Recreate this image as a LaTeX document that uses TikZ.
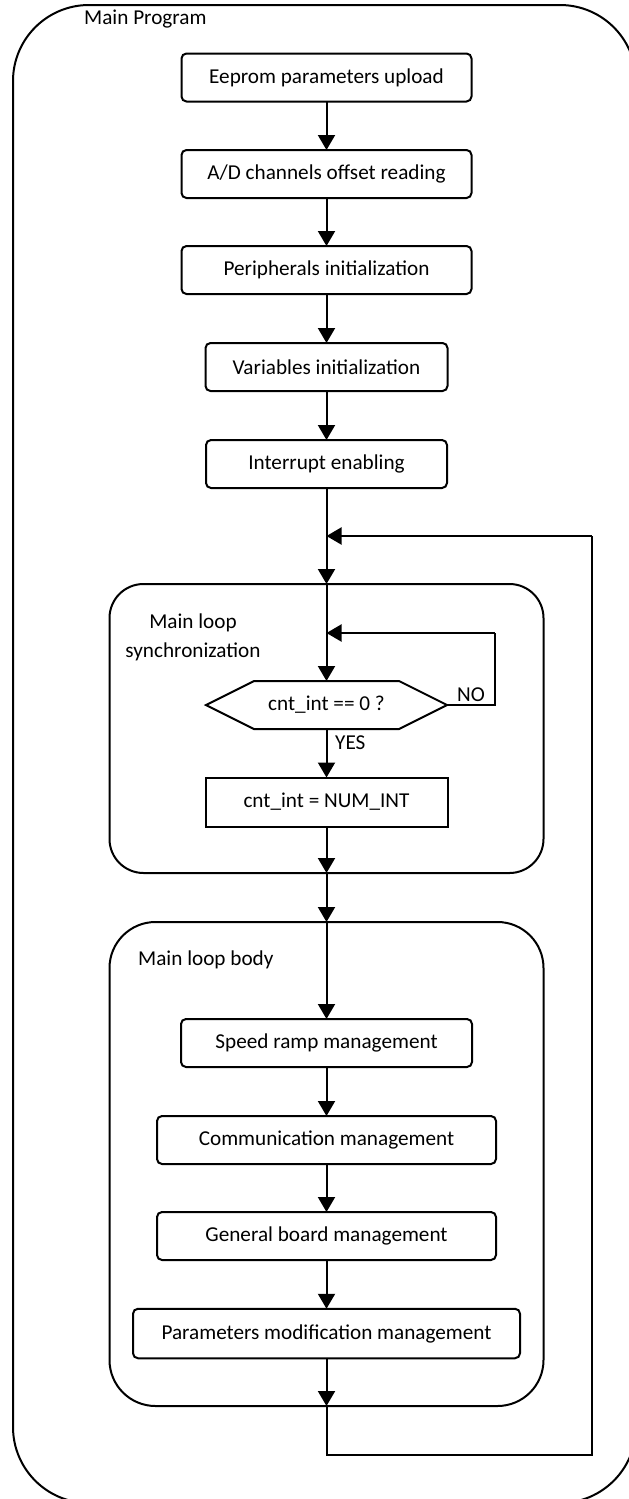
\documentclass[tikz,border=0pt]{standalone}
\usepackage{fontspec}
\setmainfont{Carlito}
\usetikzlibrary{arrows.meta}
\tikzset{
  lw/.style={line width=2pt},
  proc/.style={draw, lw, rounded corners=5pt, minimum height=48pt, inner sep=0pt, outer sep=0pt, align=center},
  sqproc/.style={draw, lw, minimum height=49pt, inner sep=0pt, outer sep=0pt},
  container/.style={draw, lw, inner sep=0pt, outer sep=0pt},
  conn/.style={lw, -{Triangle[length=15pt,width=17pt]}},
  plain/.style={lw},
  lbl/.style={inner sep=0pt, anchor=west}
}
\begin{document}
\begin{tikzpicture}[x=1pt, y=-1pt, font=\fontsize{21.2}{29.5}\selectfont]
\useasboundingbox (0,0) rectangle (629,1499);
\clip (0,0) rectangle (629,1499);
% outer container
\node[container, rounded corners=76pt, minimum width=623pt, minimum height=1498pt] (outer) at (324.5,754) {};
\node[lbl] (title) at (84,19) {Main Program};
% inner containers
\node[container, rounded corners=34pt, minimum width=434pt, minimum height=289pt] (sync) at (326.5,728.5) {};
\node[container, rounded corners=46pt, minimum width=434pt, minimum height=484pt] (body) at (326.5,1164) {};
\node[inner sep=0pt, align=center] (synclbl) at (193,637.5) {Main loop\\synchronization};
\node[lbl] (bodylbl) at (138,960) {Main loop body};
% process boxes
\node[proc, minimum width=290pt] (n1) at (326.5,77.5) {Eeprom parameters upload};
\node[proc, minimum width=290pt] (n2) at (326.5,174) {A/D channels offset reading};
\node[proc, minimum width=290pt] (n3) at (326.5,270) {Peripherals initialization};
\node[proc, minimum width=242pt] (n4) at (326.5,367) {Variables initialization};
\node[proc, minimum width=241pt] (n5) at (326.5,464) {Interrupt enabling};
\coordinate (j1) at (326.5,536);
\coordinate (c2) at (326.5,633);
\node[inner sep=0pt, outer sep=0pt, minimum width=241pt, minimum height=48pt] (dec) at (326.5,705) {cnt\_int == 0 ?};
\draw[plain] (dec.west) -- ([xshift=48pt]dec.north west) -- ([xshift=-48pt]dec.north east) -- (dec.east) -- ([xshift=-48pt]dec.south east) -- ([xshift=48pt]dec.south west) -- cycle;
\node[sqproc, minimum width=242pt] (n6) at (326.5,802) {cnt\_int = NUM\_INT};
\node[proc, minimum width=291pt] (n7) at (326.5,1043) {Speed ramp management};
\node[proc, minimum width=339pt] (n8) at (326.5,1140) {Communication management};
\node[proc, minimum width=339pt] (n9) at (326.5,1236) {General board management};
\node[proc, minimum width=387pt, minimum height=49.5pt] (n10) at (326.5,1333.5) {Parameters modification management};
\coordinate (r1) at (495,705);
\coordinate (r2) at (495,633);
\coordinate (b1) at (326.5,1455);
\coordinate (b2) at (592,1455);
\coordinate (b3) at (592,536);
% connectors
\draw[conn] (n1.south) -- (n2.north);
\draw[conn] (n2.south) -- (n3.north);
\draw[conn] (n3.south) -- (n4.north);
\draw[conn] (n4.south) -- (n5.north);
\draw[plain] (n5.south) -- (j1);
\draw[conn] (j1) -- (sync.north);
\draw[plain] (sync.north) -- (c2);
\draw[conn] (c2) -- (dec.north);
\draw[conn] (dec.south) -- (n6.north);
\draw[plain] (dec.east) -- (r1) -- (r2);
\draw[conn] (r2) -- (c2);
\draw[conn] (n6.south) -- (sync.south);
\draw[conn] (sync.south) -- (body.north);
\draw[conn] (body.north) -- (n7.north);
\draw[conn] (n7.south) -- (n8.north);
\draw[conn] (n8.south) -- (n9.north);
\draw[conn] (n9.south) -- (n10.north);
\draw[conn] (n10.south) -- (body.south);
\draw[plain] (body.south) -- (b1) -- (b2) -- (b3);
\draw[conn] (b3) -- (j1);
\node[lbl] (yes) at (335,743) {YES};
\node[lbl] (no) at (457,695) {NO};
\end{tikzpicture}
\end{document}
